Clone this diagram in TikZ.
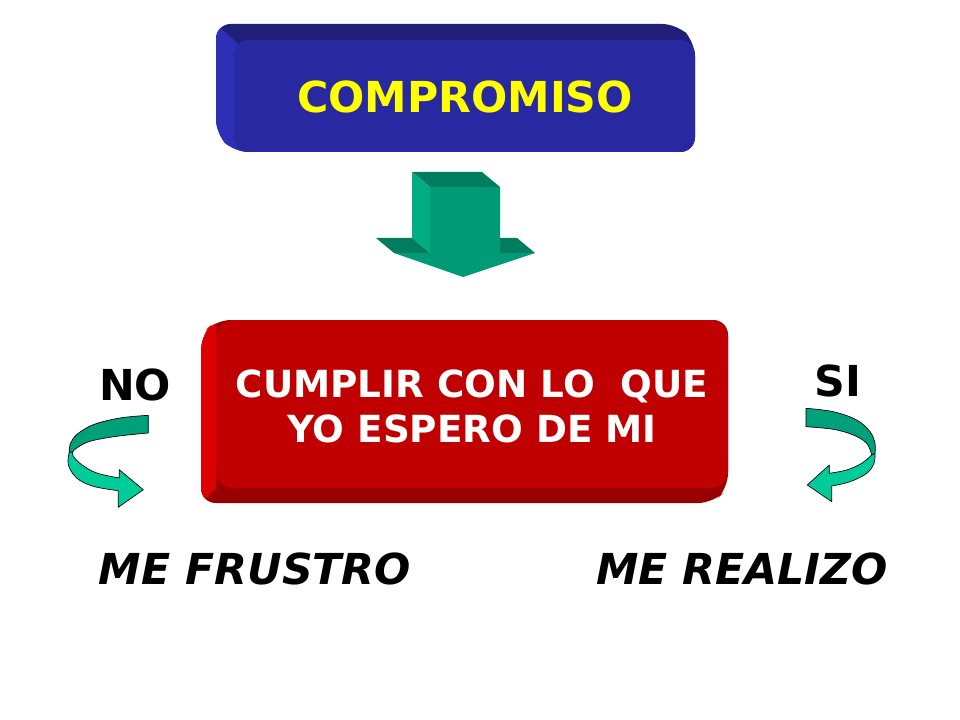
\documentclass[tikz,border=0pt]{standalone}
\usepackage{fontspec}
\setmainfont{DejaVu Sans}
\definecolor{bfront}{HTML}{2828A0}
\definecolor{btop}{HTML}{1F1F78}
\definecolor{bleft}{HTML}{2E2EB6}
\definecolor{rfront}{HTML}{C00000}
\definecolor{rleft}{HTML}{DD0000}
\definecolor{rbottom}{HTML}{990000}
\definecolor{gfront}{HTML}{009B76}
\definecolor{gtop}{HTML}{007D5E}
\definecolor{gleft}{HTML}{00AD83}
\definecolor{cdark}{HTML}{00A07A}
\definecolor{clight}{HTML}{00CC99}
\definecolor{ttyellow}{HTML}{FFFF00}
\tikzset{
  bigtext/.style={font=\fontsize{32}{38}\selectfont\bfseries, inner sep=0pt, anchor=base},
  boxtext/.style={font=\fontsize{28}{34}\selectfont\bfseries, text=white, inner sep=0pt, anchor=base},
  restext/.style={font=\fontsize{32}{38}\selectfont\bfseries\itshape, inner sep=0pt, anchor=base},
  ribbon/.style={draw=black, line width=0.5pt, line join=round},
}
\begin{document}
\begin{tikzpicture}[x=0.75pt,y=-0.75pt]
\useasboundingbox (0,0) rectangle (960,720);
\fill[white] (0,0) rectangle (960,720);

% ---- blue box ----
\def\bluesil{(216,24) -- (677,24) -- (695,42) -- (695,152) -- (234,152) -- (216,134) -- cycle}
\fill[btop, rounded corners=11pt] \bluesil;
\begin{scope}
  \clip (180,-8) -- (270,72) -- (270,200) -- (100,200) -- (100,-8) -- cycle;
  \fill[bleft, rounded corners=11pt] \bluesil;
\end{scope}
\fill[bfront, rounded corners=11pt] (234,40) rectangle (695,152);
\node[bigtext, text=ttyellow] (commit) at (465,113) {COMPROMISO};

% ---- green down arrow ----
\fill[gtop] (412,172) -- (482,172) -- (500,187) -- (430,187) -- cycle;
\fill[gleft] (412,172) -- (430,187) -- (430,253) -- (412,238) -- cycle;
\fill[gtop] (376,238) -- (412,238) -- (430,253) -- (394,253) -- cycle;
\fill[gtop] (500,238) -- (517,238) -- (535,253) -- (500,253) -- cycle;
\fill[gfront] (430,187) -- (500,187) -- (500,253) -- (535,253) -- (463,277) -- (394,253) -- (430,253) -- cycle;

% ---- red box ----
\def\redsil{(216,320) -- (728,320) -- (728,488) -- (713,503) -- (201,503) -- (201,335) -- cycle}
\fill[rbottom, rounded corners=11pt] \redsil;
\begin{scope}
  \clip (150,300) -- (216,300) -- (216,488) -- (186,518) -- (150,518) -- cycle;
  \fill[rleft, rounded corners=11pt] \redsil;
\end{scope}
\fill[rfront, rounded corners=13pt] (216,320) rectangle (728,488);
\node[boxtext] (line1) at (472,397) {CUMPLIR CON LO\ \ QUE};
\node[boxtext] (line2) at (472,442) {YO ESPERO DE MI};

% ---- labels ----
\node[bigtext] (no) at (135,400) {NO};
\node[bigtext] (si) at (838,396) {SI};
\node[restext] (frustro) at (255,584) {ME FRUSTRO};
\node[restext] (realizo) at (742,584) {ME REALIZO};

% ---- left curved arrow ----
\filldraw[ribbon, fill=clight] plot[smooth, tension=0.6] coordinates {(69.3,452) (68.3,464.7) (76.7,478) (93.3,486.3) (118.3,490.7)}
  -- (118.3,507.3) -- (143.3,489.7) -- (119.3,469.7) -- (119.3,478)
  -- plot[smooth, tension=0.6] coordinates {(119.3,478) (96.7,473) (81.7,464.7) (73.3,456.3) (72.7,452)} -- cycle;
\filldraw[ribbon, fill=cdark] plot[smooth, tension=0.6] coordinates {(148.3,415.3) (120,418) (93.3,424.7) (76.7,434.7) (70,444.7) (69.3,452)}
  -- plot[smooth, tension=0.6] coordinates {(72.7,452) (76.7,448) (90,441.3) (116.7,436.3) (148.3,433)} -- cycle;

% ---- right curved arrow ----
\filldraw[ribbon, fill=clight] plot[smooth, tension=0.6] coordinates {(875,453.3) (874,463.3) (866.7,473.3) (850,481.7) (831.7,486)}
  -- (831.7,501.7) -- (807.3,485) -- (829.3,465) -- (829.3,473.3)
  -- plot[smooth, tension=0.6] coordinates {(829.3,473.3) (846.7,470) (861.7,463.3) (871.7,455)} -- cycle;
\filldraw[ribbon, fill=cdark] plot[smooth, tension=0.6] coordinates {(806,408.3) (833.3,411.7) (856.7,420) (870,431.7) (875,443.3) (875,453.3)}
  -- plot[smooth, tension=0.6] coordinates {(871.7,455) (866.7,443.3) (853.3,435) (833.3,429.3) (806,426.7)} -- cycle;
\end{tikzpicture}
\end{document}
